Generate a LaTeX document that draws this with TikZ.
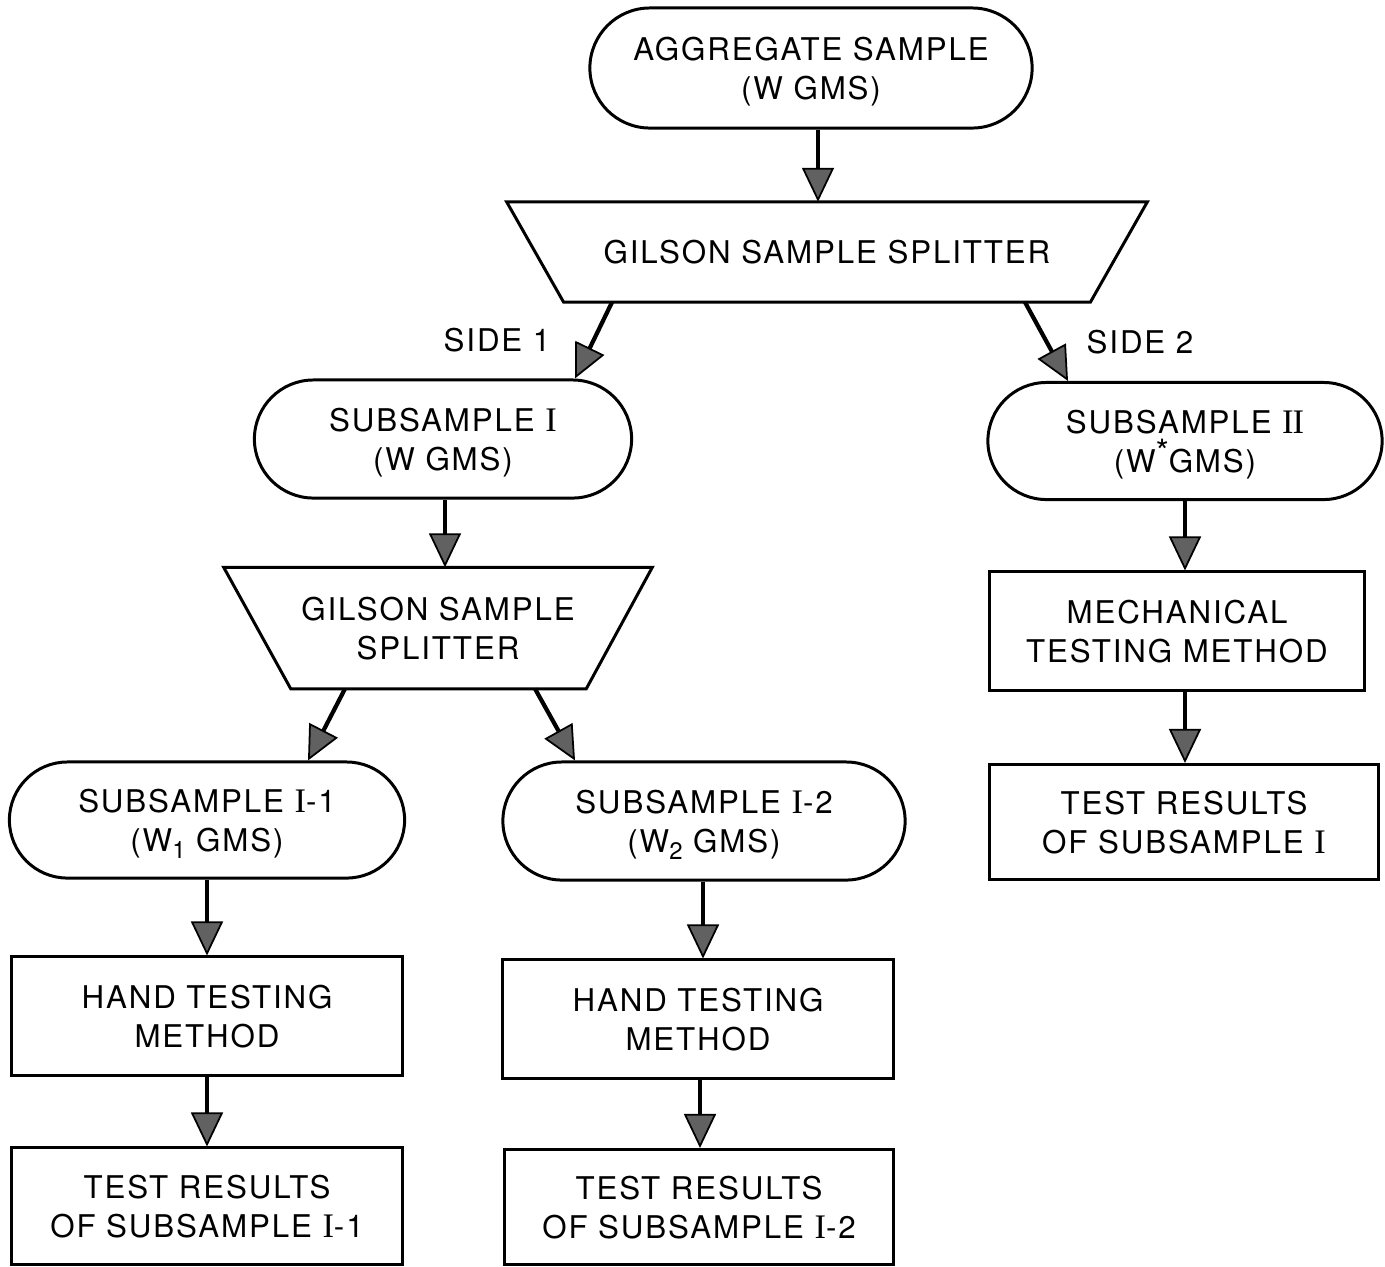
\documentclass[tikz,border=0pt]{standalone}
\usepackage{fontspec}
\setmainfont{TeX Gyre Heros}[LetterSpace=6]
\newfontfamily\numfont{Liberation Serif}[Scale=1.1]
\usepackage{tikz}
\usetikzlibrary{arrows.meta,shapes.misc}

% roman numerals and small indices
\newcommand{\rI}{{\numfont I}}
\newcommand{\rII}{{\numfont I\kern-0.3pt I}}
\newcommand{\lo}[1]{\raisebox{-0.45ex}{\fontsize{6.8}{6.8}\selectfont #1}}
\newcommand{\hi}[1]{\raisebox{0.55ex}{\fontsize{9.5}{9.5}\selectfont #1}}

\tikzset{
  every node/.style={font=\fontsize{8.9}{11.2}\selectfont, align=center, inner sep=0pt,
                     text depth=0pt},
  sample/.style={shape=rounded rectangle, draw, line width=0.85pt},
  method/.style={shape=rectangle, draw, line width=0.85pt},
  splitter/.style={shape=rectangle},
  border/.style={line width=0.85pt, line join=miter},
  flow/.style={line width=1.2pt, -{Triangle[length=0.34cm, width=0.32cm, fill=black!62, line width=0.5pt]}},
}

\begin{document}
\begin{tikzpicture}[x=0.01cm, y=-0.01cm]
  \useasboundingbox (0,0) rectangle (1385,1266);

  % top of the tree
  \node[sample, minimum width=4.42cm, minimum height=1.2cm] (agg) at (811,68)
       {AGGREGATE SAMPLE\\(W GMS)};
  \node[splitter, minimum width=6.39cm, minimum height=0.99cm] (split) at (827,252)
       {GILSON SAMPLE SPLITTER};
  \draw[border] (split.north west) -- (split.north east)
     -- ([xshift=-0.57cm]split.south east) -- ([xshift=0.57cm]split.south west) -- cycle;

  % side 1
  \node[sample, minimum width=3.77cm, minimum height=1.18cm] (subI) at (443,439)
       {SUBSAMPLE \rI\\(W GMS)};
  \node[splitter, minimum width=4.27cm, minimum height=1.2cm] (splitb) at (438,628)
       {GILSON SAMPLE\\SPLITTER};
  \draw[border] (splitb.north west) -- (splitb.north east)
     -- ([xshift=-0.66cm]splitb.south east) -- ([xshift=0.67cm]splitb.south west) -- cycle;
  \node[sample, minimum width=3.95cm, minimum height=1.16cm] (subIa) at (207,820)
       {SUBSAMPLE \rI-1\\(W\lo{1} GMS)};
  \node[sample, minimum width=4.02cm, minimum height=1.18cm] (subIb) at (704,821)
       {SUBSAMPLE \rI-2\\(W\lo{2} GMS)};
  \node[method, minimum width=3.91cm, minimum height=1.18cm] (handa) at (207,1016)
       {HAND TESTING\\METHOD};
  \node[method, minimum width=3.90cm, minimum height=1.18cm] (handb) at (698,1019)
       {HAND TESTING\\METHOD};
  \node[method, minimum width=3.90cm, minimum height=1.16cm] (resa) at (207,1206)
       {TEST RESULTS\\OF SUBSAMPLE \rI-1};
  \node[method, minimum width=3.88cm, minimum height=1.15cm] (resb) at (699,1207)
       {TEST RESULTS\\OF SUBSAMPLE \rI-2};

  % side 2
  \node[sample, minimum width=3.94cm, minimum height=1.17cm] (subII) at (1185,441)
       {SUBSAMPLE \rII\\(W\hi{*}GMS)};
  \node[method, minimum width=3.75cm, minimum height=1.18cm] (mech) at (1177,631)
       {MECHANICAL\\TESTING METHOD};
  \node[method, minimum width=3.88cm, minimum height=1.15cm] (resII) at (1184,822)
       {TEST RESULTS\\OF SUBSAMPLE \rI};

  \node (sideI) at (497,340) {SIDE 1};
  \node (sideII) at (1140,342) {SIDE 2};

  % connectors
  \draw[flow] (agg.south -| 818,0) -- (split.north -| 818,0);
  \draw[flow] (split.south -| 612,0) -- (subI.north -| 575,0);
  \draw[flow] (split.south -| 1025,0) -- (subII.north -| 1068,0);
  \draw[flow] (subI.south -| 445,0) -- (splitb.north -| 445,0);
  \draw[flow] (splitb.south -| 345,0) -- (subIa.north -| 308,0);
  \draw[flow] (splitb.south -| 535,0) -- (subIb.north -| 575,0);
  \draw[flow] (subIa.south -| 207,0) -- (handa.north -| 207,0);
  \draw[flow] (handa.south -| 207,0) -- (resa.north -| 207,0);
  \draw[flow] (subIb.south -| 703,0) -- (handb.north -| 703,0);
  \draw[flow] (handb.south -| 700,0) -- (resb.north -| 700,0);
  \draw[flow] (subII.south -| 1185,0) -- (mech.north -| 1185,0);
  \draw[flow] (mech.south -| 1185,0) -- (resII.north -| 1185,0);
\end{tikzpicture}
\end{document}
